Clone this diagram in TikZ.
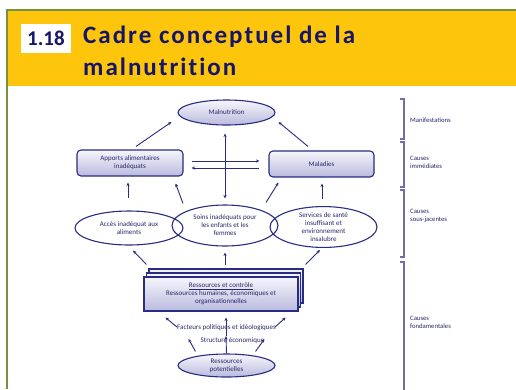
\documentclass[tikz,border=0pt]{standalone}
\usepackage{fontspec}
\setmainfont{Carlito}
\newfontfamily\titlefont[LetterSpace=8,Ligatures=NoCommon]{Carlito}
\newfontfamily\numfont{Carlito}
\usetikzlibrary{shapes.geometric,arrows.meta,calc}
\definecolor{navy}{RGB}{40,44,130}
\definecolor{titlenavy}{RGB}{22,22,105}
\definecolor{bandyellow}{RGB}{253,197,11}
\definecolor{framegreen}{RGB}{118,146,60}
\definecolor{lavtop}{RGB}{246,246,252}
\definecolor{lavbot}{RGB}{186,186,222}
\definecolor{brackcol}{RGB}{110,110,175}
\definecolor{txtcol}{RGB}{40,40,105}
\tikzset{
  lbl/.style={font=\fontsize{7}{8}\selectfont, text=txtcol, align=center, inner sep=0pt},
  shadedfill/.style={top color=lavtop, bottom color=lavbot, draw=navy, line width=1.1pt},
  ovalnode/.style={ellipse, shadedfill, lbl},
  roundbox/.style={rectangle, rounded corners=4pt, shadedfill, lbl},
  openoval/.style={ellipse, draw=navy, line width=1.1pt, lbl},
  resbox/.style={rectangle, shadedfill, lbl, minimum width=154pt, minimum height=34pt},
  arr/.style={draw=navy, line width=0.9pt, -{Stealth[length=3.5pt,width=3.2pt]}},
  darr/.style={draw=navy, line width=0.9pt, {Stealth[length=3.5pt,width=3.2pt]}-{Stealth[length=3.5pt,width=3.2pt]}},
  brack/.style={draw=brackcol, line width=1.3pt},
  sidelbl/.style={font=\fontsize{6.7}{8}\selectfont, text=txtcol, align=left, anchor=west, inner sep=0pt}
}
\begin{document}
\begin{tikzpicture}[x=1pt,y=-1pt]
\useasboundingbox (0,0) rectangle (516,389);
\fill[white] (0,0) rectangle (516,389);
% frame and band
\fill[bandyellow] (8,11) rectangle (516,86);
\draw[framegreen, line width=2pt] (7,389) -- (7,10) -- (516,10);
\fill[white] (21,24) rectangle (71,53);
\node[font=\numfont\bfseries\fontsize{21}{21}\selectfont, text=titlenavy, anchor=base, inner sep=0pt] (num) at (46,45) {1.18};
\node[font=\titlefont\bfseries\fontsize{25}{25}\selectfont, text=titlenavy, anchor=base west, inner sep=0pt] (t1) at (83,43) {Cadre conceptuel de la};
\node[font=\titlefont\bfseries\fontsize{25}{25}\selectfont, text=titlenavy, anchor=base west, inner sep=0pt] (t2) at (83,75) {malnutrition};

% main nodes
\node[ovalnode, minimum width=97pt, minimum height=25pt] (mal) at (226.5,112.5) {Malnutrition};
\node[roundbox, minimum width=106pt, minimum height=26pt] (app) at (130,163) {Apports alimentaires\\inadéquats};
\node[roundbox, minimum width=105pt, minimum height=26pt] (mld) at (321.5,164) {Maladies};

\node[openoval, minimum width=108pt, minimum height=34pt] (acc) at (129,228) {Accès inadéquat aux\\aliments};
\node[openoval, minimum width=106pt, minimum height=41pt] (soi) at (225,225.5) {Soins inadéquats pour\\les enfants et les\\femmes};
\node[openoval, minimum width=107pt, minimum height=40pt] (ser) at (323.5,227) {Services de santé\\insuffisant et\\environnement\\insalubre};

% stacked resources box
\node[resbox] (res3) at (226,286) {};
\node[resbox] (res2) at (223.5,290) {};
\node[resbox, align=center] (res) at (221,294) {\underline{Ressources et contrôle}\\Ressources humaines, économiques et\\organisationnelles};

\node[lbl] (fac) at (226.5,328) {Facteurs politiques et idéologiques};
\node[lbl] (str) at (232.5,341) {Structure économique};
\node[ovalnode, minimum width=97pt, minimum height=23pt] (pot) at (226.5,365.5) {Ressources\\potentielles};
\coordinate (mid) at (226,336);

% arrows top
\draw[arr] ($(app.north)+(6,-3)$) -- ($(mal.west)+(-6,9.5)$);
\draw[arr] ($(mld.north)+(-13.5,-4)$) -- ($(mal.east)+(3,9.5)$);
\draw[arr] ($(app.east)+(8,-2)$) -- ($(mld.west)+(-9,-3)$);
\draw[arr] ($(mld.west)+(-9,4)$) -- ($(app.east)+(8,5)$);
\draw[darr] ($(mal.south)+(-1.5,8)$) -- ($(soi.north)+(0,-6)$);
% arrows middle
\draw[arr] ($(acc.north)+(-1,-12)$) -- ($(app.south)+(-2,6)$);
\draw[arr] ($(soi.north)+(-42,-1)$) -- ($(app.south east)+(-8,7)$);
\draw[arr] ($(soi.north)+(41,-2)$) -- ($(mld.south west)+(10,5)$);
\draw[arr] ($(ser.north)+(-1.5,-7)$) -- ($(mld.south)+(0.5,6)$);
% arrows from resources
\draw[arr] ($(res.north west)+(3,-12)$) -- ($(acc.south)+(4,5)$);
\draw[arr] ($(res.north)+(4,-11)$) -- ($(soi.south)+(0,6)$);
\draw[arr] ($(res.north east)+(7,-12)$) -- ($(ser.south)+(-3.5,2)$);
% arrows bottom
\draw[arr] (pot.north) -- (mid);
\draw[arr] (mid) -- ($(res.south)+(5,6)$);
\draw[arr] ($(fac.west)+(0,-1)$) -- ($(res.south west)+(22,6)$);
\draw[arr] ($(fac.east)+(-1,-1)$) -- ($(res.south east)+(-13,6)$);
\draw[arr] ($(pot.north)+(-31,-2)$) -- ($(str.west)+(-12,-2)$);
\draw[arr] ($(pot.north)+(29,-2)$) -- ($(str.east)+(0,-2)$);

% brackets
\draw[brack] (400,99) -- (404,99) -- (404,139) -- (400,139);
\draw[brack] (400,142) -- (404,142) -- (404,187) -- (400,187);
\draw[brack] (400,190) -- (404,190) -- (404,257) -- (400,257);
\draw[brack] (400,262) -- (404,262) -- (404,392);
\node[sidelbl] (l1) at (410,120) {Manifestations};
\node[sidelbl] (l2) at (410,162) {Causes\\immédiates};
\node[sidelbl] (l3) at (410,216) {Causes\\sous-jacentes};
\node[sidelbl] (l4) at (410,322) {Causes\\fondamentales};
\end{tikzpicture}
\end{document}
